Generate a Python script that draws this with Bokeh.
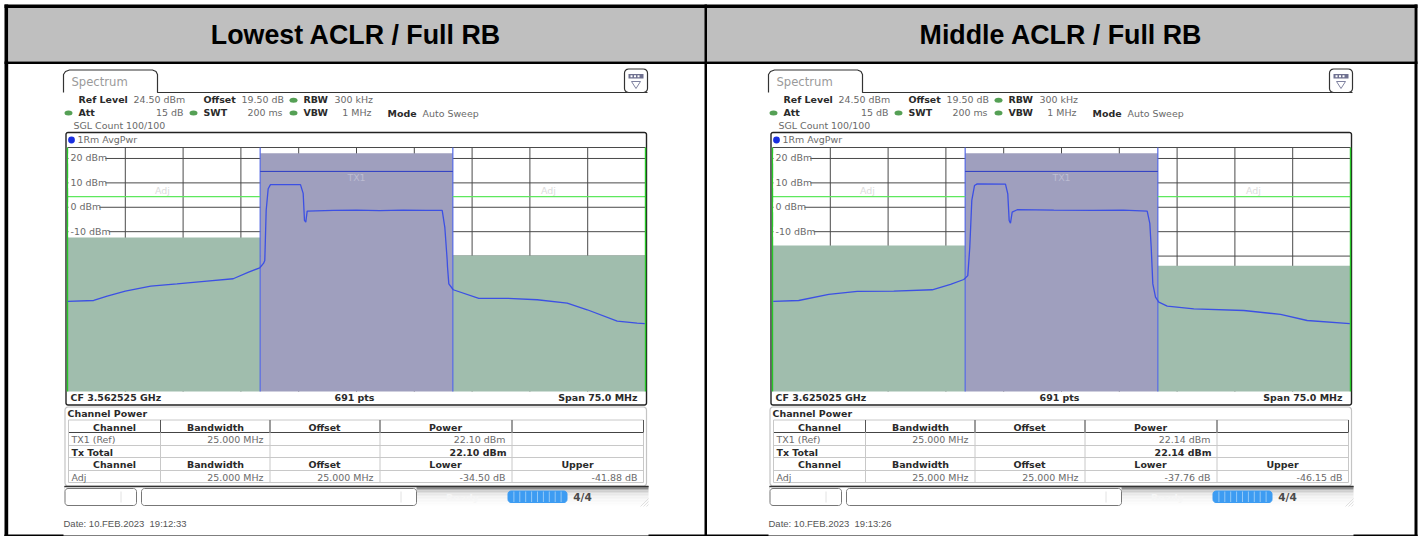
from bokeh.plotting import figure
from bokeh.models import Range1d
from bokeh.core.properties import value
from bokeh.embed import file_html
from bokeh.resources import INLINE
import math

# ---------- data ----------
TITLES = ["Lowest ACLR / Full RB", "Middle ACLR / Full RB"]

LOW_FREQ = [-37.46, -34.1, -32.35, -30.0, -26.7, -23.3, -19.4, -16.0, -14.0, -12.55, -12.07, -11.9, -11.72,
            -11.46, -11.16, -7.27, -6.92, -6.75, -6.58, -6.4, -2.98, 0.0, 3.0, 6.0, 9.0, 11.12, 11.46, 11.77,
            11.81, 11.98, 12.55, 15.87, 19.56, 23.45, 27.34, 29.94, 33.83, 36.42, 37.41]
LOW_DBM = [-38.6, -38.2, -36.4, -34.4, -32.3, -31.4, -30.3, -29.3, -26.6, -24.8, -23.0, -21.8, -1.3,
           7.6, 9.3, 9.3, 5.7, -5.4, -6.1, -1.6, -1.3, -1.2, -1.4, -1.2, -1.3, -1.3, -8.2, -21.8,
           -24.5, -31.4, -33.8, -37.3, -37.3, -37.9, -39.3, -42.0, -46.7, -47.5, -47.7]

MID_FREQ = [-37.41, -34.1, -30.2, -26.5, -21.76, -16.78, -14.4, -12.68, -12.16, -11.9, -11.64, -11.29, -10.94,
            -7.27, -6.97, -6.79, -6.62, -6.4, -5.75, -1.0, 4.19, 8.0, 11.12, 11.46, 11.64, 11.85, 12.2, 12.63,
            13.72, 17.17, 23.66, 28.42, 31.88, 37.41]
MID_DBM = [-38.6, -38.2, -35.7, -34.5, -34.4, -33.8, -31.6, -29.6, -28.0, -16.4, 2.8, 8.9, 9.6,
           9.5, 5.5, -5.4, -6.5, -2.0, -1.0, -1.2, -1.3, -1.2, -1.6, -6.6, -16.4, -31.4, -36.8, -38.9,
           -40.5, -41.6, -42.3, -43.9, -46.4, -47.7]

TX_POWER = [22.10, 22.14]
ACLR_LOWER = [-34.50, -37.76]
ACLR_UPPER = [-41.88, -46.15]
CF_LABELS = ["CF 3.562525 GHz", "CF 3.625025 GHz"]
DATES = ["Date: 10.FEB.2023\u00a0\u00a019:12:33", "Date: 10.FEB.2023\u00a0\u00a019:13:26"]

SPAN = 75.0
CHANNEL_BW = 25.0
REF_LEVEL = 24.5
BOTTOM_LEVEL = -75.5
DB_TICKS = [20, 10, 0, -10, -20]
DB_TICK_LABELS = ["20 dBm", "10 dBm", "0 dBm", "-10 dBm"]
FREQ_GRID = [-30.0, -22.5, -15.0, -7.5, 0.0, 7.5, 15.0, 22.5, 30.0]
TX_LINE_DBM = 14.7
ADJ_LINE_DBM = 4.4

# ---------- layout (page pixels) ----------
W, H = 1421, 536
PLOT_X = 67
PLOT_W = 578
PLOT_TOP = 147
PLOT_H = 244
PANEL_DX = 705
ppm = PLOT_W / SPAN
ppd = PLOT_H / (REF_LEVEL - BOTTOM_LEVEL)

p = figure(width=W, height=H, output_backend="svg", toolbar_location=None,
           x_range=Range1d(0, W), y_range=Range1d(H, 0),
           x_axis_location=None, y_axis_location=None,
           min_border=0, outline_line_color=None, background_fill_color="white")
p.grid.visible = False
p.styles = {"position": "absolute", "left": "0px", "top": "0px"}
p.extra_y_ranges = {"dbm": Range1d(REF_LEVEL - (H - PLOT_TOP) / ppd, REF_LEVEL + PLOT_TOP / ppd)}
for i in range(2):
    x0 = PLOT_X + i * PANEL_DX
    p.extra_x_ranges[f"mhz{i}"] = Range1d(-SPAN / 2 - x0 / ppm, -SPAN / 2 + (W - x0) / ppm)

GRAY = "#6a6a6a"
DARK = "#2a2a2a"
SCREEN = "DejaVu Sans"


def t(x, y, s, size=9.45, bold=False, color=GRAY, align="left", font=SCREEN):
    p.text(x=[x], y=[y - 0.5], text=[s], text_font=value(font), text_font_size=value(f"{size}px"),
           text_font_style="bold" if bold else "normal", text_color=color,
           text_align=align, text_baseline="middle")


def box(x0, y0, x1, y1, color):
    p.quad(left=[x0], right=[x1], top=[y0], bottom=[y1], fill_color=color, line_color=None)


def hl(x0, x1, y, color, w=1.0):
    p.line([x0, x1], [y, y], line_color=color, line_width=w)


def vl(x, y0, y1, color, w=1.0):
    p.line([x, x], [y0, y1], line_color=color, line_width=w)


def rrect(x0, y0, x1, y1, r, color, w=1.0, fill=None):
    xs, ys = [], []
    corners = [(x1 - r, y0 + r, -90), (x1 - r, y1 - r, 0), (x0 + r, y1 - r, 90), (x0 + r, y0 + r, 180)]
    for cx, cy, a in corners:
        for k in range(5):
            ang = math.radians(a + k * 22.5)
            xs.append(cx + r * math.cos(ang))
            ys.append(cy + r * math.sin(ang))
    xs.append(xs[0])
    ys.append(ys[0])
    if fill:
        p.patch(xs, ys, fill_color=fill, line_color=None)
    p.line(xs, ys, line_color=color, line_width=w)


def dot(x, y, color, rx=4.0, ry=2.5):
    p.ellipse(x=[x], y=[y], width=[2 * rx], height=[2 * ry], fill_color=color, line_color=None)


# ---------- outer table ----------
box(8, 7, 1414, 61, "#bfbfbf")
box(4, 4, 1417, 7.5, "black")
box(4, 61, 1417, 63.5, "black")
box(4, 4, 7.7, 536, "black")
box(704, 4, 706.5, 536, "black")
box(1414, 4, 1417, 536, "black")
box(4, 535, 1417, 536, "black")
for a, b in [(4, 63), (648, 768), (1353, 1417)]:
    box(a, 534, b, 536, "black")


def panel(i, freq, dbm):
    d = i * PANEL_DX
    xr, yr = f"mhz{i}", "dbm"
    t(355.5 + d, 35, TITLES[i], size=26.8, bold=True, color="black", align="center", font="Liberation Sans")

    # tab and header strip
    t(71 + d, 81.5, "Spectrum", size=11.6, color="#9a9a9a")
    p.line([63 + d, 63 + d, 65 + d, 69 + d, 152 + d, 155.5 + d, 157 + d, 157 + d, 647 + d],
           [92, 74, 71, 69.5, 69.5, 71, 74, 92, 92], line_color="#333333", line_width=1.2)
    rrect(624 + d, 68.5, 647 + d, 92, 4, "#333333", 1.2, "white")
    box(628 + d, 73.5, 643 + d, 78, "#6f7190")
    for k in range(3):
        box(630 + d + 3.5 * k, 74.7, 632 + d + 3.5 * k, 76.8, "white")
    p.line([631 + d, 635.5 + d, 640 + d, 631 + d], [81, 88, 81, 81], line_color="#7f82a0", line_width=1)

    t(78 + d, 99, "Ref Level", bold=True, color=DARK)
    t(133 + d, 99, "24.50 dBm")
    t(203 + d, 99, "Offset", bold=True, color=DARK)
    t(241 + d, 99, "19.50 dB")
    dot(293 + d, 99.7, "#55a055")
    t(303 + d, 99, "RBW", bold=True, color=DARK)
    t(334 + d, 99, "300 kHz")
    dot(68 + d, 112.5, "#55a055")
    t(78 + d, 112, "Att", bold=True, color=DARK)
    t(183 + d, 112, "15 dB", align="right")
    dot(193 + d, 112.5, "#55a055")
    t(203 + d, 112, "SWT", bold=True, color=DARK)
    t(282 + d, 112, "200 ms", align="right")
    dot(293 + d, 112.5, "#55a055")
    t(303 + d, 112, "VBW", bold=True, color=DARK)
    t(371 + d, 112, "1 MHz", align="right")
    t(387 + d, 113, "Mode", bold=True, color=DARK)
    t(422 + d, 113, "Auto Sweep")
    t(73 + d, 125.5, "SGL Count 100/100")

    # measurement window
    rrect(65.5 + d, 132, 646 + d, 404.5, 2, "#222222", 1.4, "white")
    dot(71 + d, 139.5, "#1a2fe0", 3.4, 3.4)
    t(77 + d, 139.5, "1Rm AvgPwr")

    # grid, through the two measurement scales
    lo, hi = -SPAN / 2, SPAN / 2
    p.multi_line(xs=[[f, f] for f in FREQ_GRID], ys=[[REF_LEVEL, BOTTOM_LEVEL]] * len(FREQ_GRID),
                 x_range_name=xr, y_range_name=yr, line_color="#4a4a4a", line_width=1)
    p.multi_line(xs=[[lo, hi]] * (len(DB_TICKS) + 1), ys=[[v, v] for v in DB_TICKS] + [[REF_LEVEL, REF_LEVEL]],
                 x_range_name=xr, y_range_name=yr, line_color="#4a4a4a", line_width=1)

    # adjacent channel and TX masks, from the measured powers
    ch = CHANNEL_BW / 2
    lower = TX_POWER[i] + ACLR_LOWER[i]
    upper = TX_POWER[i] + ACLR_UPPER[i]
    p.quad(left=[lo, ch], right=[-ch, hi], top=[lower, upper], bottom=[BOTTOM_LEVEL] * 2,
           x_range_name=xr, y_range_name=yr, fill_color="#a0bdad", line_color=None)
    p.quad(left=[-ch], right=[ch], top=[TX_POWER[i]], bottom=[BOTTOM_LEVEL],
           x_range_name=xr, y_range_name=yr, fill_color="#9f9fbe", line_color=None)
    p.multi_line(xs=[[-ch, -ch], [ch, ch]], ys=[[REF_LEVEL, BOTTOM_LEVEL]] * 2, x_range_name=xr, y_range_name=yr,
                 line_color="#5468e4", line_width=1.2)
    p.line([-ch, ch], [TX_LINE_DBM] * 2, x_range_name=xr, y_range_name=yr, line_color="#2b3cc4", line_width=1)
    p.multi_line(xs=[[lo, -ch], [ch, hi]], ys=[[ADJ_LINE_DBM] * 2] * 2, x_range_name=xr, y_range_name=yr,
                 line_color="#5ee85e", line_width=1.2)
    p.multi_line(xs=[[lo, lo], [hi, hi]], ys=[[REF_LEVEL, BOTTOM_LEVEL]] * 2, x_range_name=xr, y_range_name=yr,
                 line_color="#28c828", line_width=1.4)

    # dB labels with a white ground that interrupts the grid
    for v, lab in zip(DB_TICKS, DB_TICK_LABELS):
        y = PLOT_TOP + (REF_LEVEL - v) * ppd
        digits = sum(c.isdigit() for c in lab)
        wid = 23 + 5.9 * digits + (3.4 if v < 0 else 0)
        box(68 + d, y - 5, 70 + d + wid, y + 5, "white")
        t(70 + d, y, lab)

    t(162 + d, 190, "Adj", color="#dcdcdc", align="center")
    t(548 + d, 190, "Adj", color="#dcdcdc", align="center")
    t(356 + d, 177, "TX1", color="#bcbcd2", align="center")

    p.line(freq, dbm, x_range_name=xr, y_range_name=yr, line_color="#3c50e4", line_width=1.3)

    # footer of the window
    t(70 + d, 397.5, CF_LABELS[i], bold=True, color=DARK)
    t(354 + d, 397.5, "691 pts", bold=True, color=DARK, align="center")
    t(637 + d, 397.5, "Span 75.0 MHz", bold=True, color=DARK, align="right")

    # channel power table
    rrect(64.5 + d, 406.5, 646 + d, 485.5, 3, "#c4c4c4", 1.2, "white")
    t(67 + d, 413, "Channel Power", bold=True, color=DARK)
    cols = [68, 160, 269.5, 379.5, 511.5, 643]
    rows = [419.5, 432, 445, 457, 470, 482]
    for r in rows:
        hl(cols[0] + d, cols[-1] + d, r, "#c8c8c8", 1)
    hl(cols[0] + d, cols[-1] + d, rows[1], "#444444", 1.2)
    for c in cols:
        vl(c + d, rows[0], rows[-1], "#c8c8c8", 1)
    for c in cols[1:]:
        vl(c + d, rows[0], rows[1], "#555555", 1)
    for yy, heads in [(427, ["Channel", "Bandwidth", "Offset", "Power"]),
                      (464, ["Channel", "Bandwidth", "Offset", "Lower", "Upper"])]:
        for cx, h in zip([114, 215, 324, 445, 577], heads):
            t(cx + d, yy, h, bold=True, color=DARK, align="center")
    pw = f"{TX_POWER[i]:.2f} dBm"
    t(71 + d, 439.5, "TX1 (Ref)")
    t(263 + d, 439.5, "25.000 MHz", align="right")
    t(505 + d, 439.5, pw, align="right")
    t(71 + d, 452, "Tx Total", bold=True, color=DARK)
    t(506 + d, 452, pw, bold=True, color=DARK, align="right")
    t(71 + d, 477, "Adj")
    t(263 + d, 477, "25.000 MHz", align="right")
    t(373 + d, 477, "25.000 MHz", align="right")
    t(505 + d, 477, f"{ACLR_LOWER[i]:.2f} dB", align="right")
    t(637 + d, 477, f"{ACLR_UPPER[i]:.2f} dB", align="right")

    # status bar
    for k, col in enumerate(["#555555", "#8c8c8c", "#b4b4b4", "#cfcfcf", "#dedede", "#e8e8e8", "#eeeeee",
                             "#f2f2f2", "#f5f5f5", "#f7f7f7", "#f9f9f9", "#fbfbfb", "#fdfdfd"]):
        box(64 + d, 485.5 + k * 1.5, 648 + d, 487 + k * 1.5, col)
    box(64 + d, 486.5, 416 + d, 507, "white")
    hl(64 + d, 648 + d, 486, "#333333", 1.4)
    rrect(64.5 + d, 488, 136 + d, 505, 3, "#777777", 1, "white")
    vl(120.5 + d, 491, 502, "#e2e2e2", 1)
    rrect(141 + d, 488, 416 + d, 505, 3, "#777777", 1, "white")
    vl(400.5 + d, 491, 502, "#e2e2e2", 1)
    t(462 + d, 497, "Ready", bold=True, color="#f6f6f6", align="center")
    rrect(507.5 + d, 490.5, 566.5 + d, 502, 3, "#3d9cf2", 1, "#3d9cf2")
    for k in range(1, 10):
        vl(507.5 + d + k * 5.9, 491, 501.5, "#a9d4f8", 0.8)
    t(582 + d, 497, "4/4", size=10.5, bold=True, color="#4a4a4a", align="center")
    for k in range(3):
        p.line([640 + d + k * 3, 648 + d], [506, 506 - (8 - k * 3)], line_color="#d8d8d8", line_width=0.8)

    t(63 + d, 523, DATES[i], size=9.5, color="#555555", font="Liberation Sans")


panel(0, LOW_FREQ, LOW_DBM)
panel(1, MID_FREQ, MID_DBM)

open("out.html", "w").write(file_html(p, INLINE))
